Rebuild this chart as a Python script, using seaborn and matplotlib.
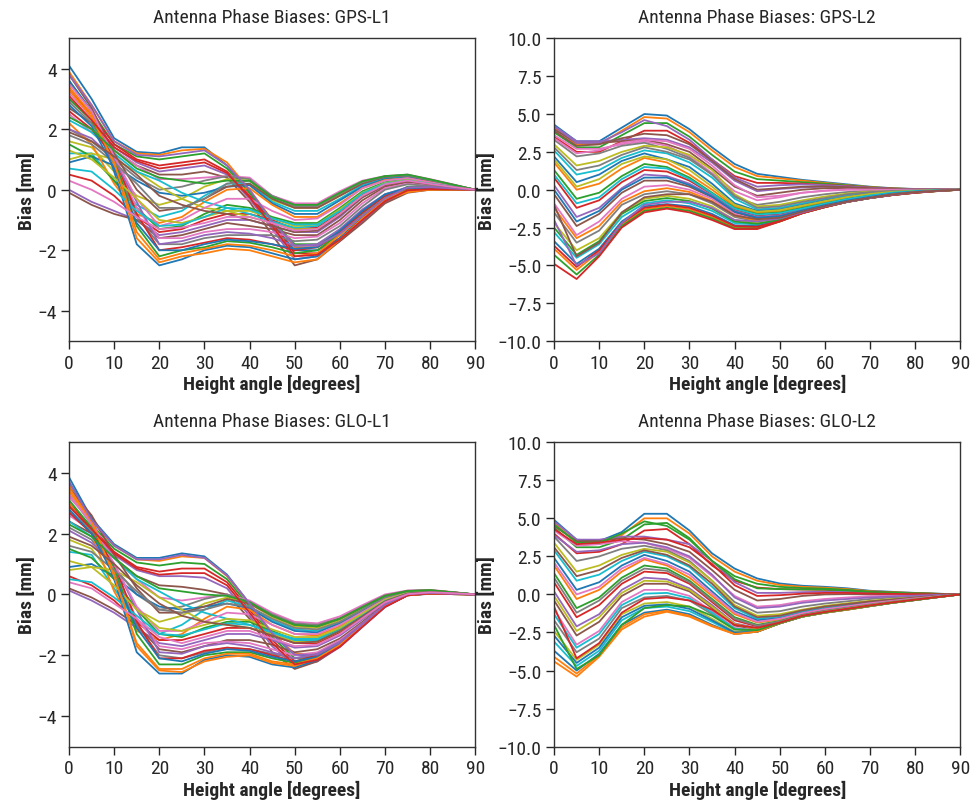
import numpy as np
import pandas as pd
import seaborn as sns
import matplotlib.pyplot as plt
from matplotlib import font_manager

# height angles (degrees)
angles = list(range(0, 95, 5))

# GPS-L1 curves [mm]
gps_l1 = [
    [4.1, 3.0, 1.7, 1.25, 1.2, 1.4, 1.4, 0.8, -0.1, -1.1, -2.0, -2.0, -1.6, -1.0, -0.4, 0.0, 0.05, 0.02, 0],
    [3.9, 2.8, 1.6, 1.2, 1.15, 1.3, 1.35, 0.9, 0.0, -1.0, -1.9, -1.9, -1.5, -0.9, -0.3, 0.05, 0.08, 0.03, 0],
    [3.6, 2.6, 1.5, 1.1, 1.0, 1.1, 1.2, 0.7, -0.1, -1.0, -1.8, -1.8, -1.4, -0.8, -0.25, 0.1, 0.1, 0.05, 0],
    [3.3, 2.5, 1.5, 1.0, 0.8, 0.9, 1.0, 0.6, -0.2, -1.1, -2.1, -2.1, -1.6, -1.0, -0.35, 0.0, 0.05, 0.02, 0],
    [3.0, 2.3, 1.4, 0.9, 0.6, 0.7, 0.8, 0.5, -0.3, -1.3, -2.3, -2.2, -1.7, -1.05, -0.4, -0.05, 0.0, 0.0, 0],
    [2.7, 2.2, 1.3, 0.8, 0.5, 0.5, 0.6, 0.4, -0.4, -1.5, -2.5, -2.3, -1.7, -1.1, -0.45, -0.1, 0.0, 0.0, 0],
    [2.5, 1.9, 1.3, 0.8, 0.35, 0.35, 0.4, 0.45, 0.4, -0.2, -0.45, -0.45, -0.05, 0.3, 0.45, 0.5, 0.35, 0.18, 0],
    [2.0, 1.6, 1.0, 0.4, 0.0, 0.1, 0.3, 0.45, 0.35, -0.3, -0.55, -0.55, -0.15, 0.22, 0.42, 0.48, 0.33, 0.16, 0],
    [1.6, 1.4, 0.6, -0.2, -0.5, -0.3, 0.1, 0.35, 0.3, -0.35, -0.6, -0.6, -0.2, 0.2, 0.4, 0.45, 0.3, 0.15, 0],
    [1.2, 1.2, 0.3, -0.5, -0.9, -0.7, -0.2, 0.2, 0.2, -0.4, -0.7, -0.7, -0.3, 0.15, 0.38, 0.43, 0.28, 0.14, 0],
    [0.9, 1.1, 0.8, 0.3, -0.1, -0.2, -0.1, 0.1, 0.15, -0.45, -0.8, -0.8, -0.35, 0.1, 0.35, 0.4, 0.27, 0.13, 0],
    [2.2, 1.5, 0.2, -0.8, -1.1, -0.9, -0.4, 0.0, 0.05, -0.5, -0.9, -0.9, -0.45, 0.05, 0.32, 0.38, 0.25, 0.12, 0],
    [1.5, 1.1, 0.3, -0.6, -1.3, -1.2, -0.8, -0.5, -0.6, -0.9, -1.1, -1.1, -0.6, -0.05, 0.25, 0.35, 0.22, 0.1, 0],
    [0.5, 0.3, -0.2, -0.9, -1.4, -1.3, -1.0, -0.8, -0.8, -1.0, -1.3, -1.25, -0.75, -0.15, 0.2, 0.3, 0.2, 0.1, 0],
    [0.0, -0.4, -0.7, -1.0, -1.5, -1.4, -1.2, -1.0, -1.0, -1.2, -1.4, -1.4, -0.9, -0.25, 0.15, 0.28, 0.18, 0.09, 0],
    [-0.1, -0.5, -0.8, -1.0, -1.6, -1.5, -1.3, -1.1, -1.2, -1.3, -1.5, -1.5, -1.0, -0.35, 0.1, 0.25, 0.16, 0.08, 0],
    [3.2, 2.4, 1.0, -0.6, -1.6, -1.6, -1.4, -1.3, -1.3, -1.4, -1.6, -1.55, -1.1, -0.45, 0.05, 0.2, 0.14, 0.07, 0],
    [2.9, 2.2, 0.9, -0.9, -1.8, -1.8, -1.6, -1.5, -1.5, -1.5, -1.7, -1.65, -1.2, -0.55, 0.0, 0.18, 0.12, 0.06, 0],
    [1.0, 1.2, 1.0, 0.6, 0.1, -0.3, -0.6, -0.7, -0.9, -1.1, -1.3, -1.3, -0.8, -0.2, 0.2, 0.32, 0.2, 0.1, 0],
    [2.3, 1.9, 1.2, 0.6, 0.3, -0.1, -0.4, -0.6, -0.8, -1.05, -1.25, -1.2, -0.7, -0.1, 0.22, 0.33, 0.21, 0.1, 0],
    [3.6, 2.6, 0.6, -1.8, -2.5, -2.3, -2.0, -1.85, -1.9, -2.1, -2.3, -2.2, -1.6, -0.9, -0.3, -0.05, 0.0, 0.0, 0],
    [3.4, 2.5, 0.8, -1.6, -2.4, -2.2, -2.1, -1.95, -2.0, -2.2, -2.4, -2.3, -1.65, -0.95, -0.35, -0.08, 0.0, 0.0, 0],
    [3.0, 2.3, 1.0, -1.2, -2.2, -2.0, -1.9, -1.7, -1.75, -1.9, -2.1, -2.0, -1.45, -0.8, -0.25, 0.0, 0.02, 0.01, 0],
    [2.6, 2.0, 1.1, -0.8, -2.0, -1.9, -1.75, -1.6, -1.65, -1.8, -2.0, -1.9, -1.4, -0.75, -0.2, 0.05, 0.04, 0.02, 0],
    [2.0, 1.7, 1.0, -0.4, -1.8, -1.7, -1.5, -1.4, -1.45, -1.6, -1.85, -1.8, -1.3, -0.65, -0.15, 0.08, 0.06, 0.03, 0],
    [3.8, 2.7, 1.2, 0.0, -0.7, -0.6, -0.3, 0.1, 0.2, -0.3, -0.6, -0.6, -0.2, 0.2, 0.42, 0.47, 0.32, 0.16, 0],
    [3.5, 2.6, 1.1, -0.3, -1.2, -1.0, -0.6, -0.3, -0.3, -0.7, -1.0, -0.95, -0.5, 0.05, 0.3, 0.38, 0.24, 0.12, 0],
    [1.8, 1.5, 0.9, 0.2, -0.6, -0.6, -0.3, 0.2, 0.3, -0.2, -0.5, -0.5, -0.1, 0.25, 0.44, 0.48, 0.32, 0.16, 0],
    [1.3, 1.0, 0.4, -0.3, -1.0, -1.1, -0.9, -0.7, -0.7, -0.95, -1.2, -1.15, -0.65, -0.1, 0.22, 0.32, 0.2, 0.1, 0],
    [0.7, 0.6, 0.0, -0.7, -1.2, -1.15, -0.9, -0.6, -0.65, -0.95, -1.15, -1.15, -0.7, -0.12, 0.2, 0.3, 0.2, 0.1, 0],
    [2.8, 2.1, 0.7, -1.1, -2.0, -2.0, -1.8, -1.65, -1.7, -1.8, -1.95, -1.9, -1.35, -0.7, -0.15, 0.06, 0.05, 0.02, 0],
    [3.3, 2.4, 0.9, -1.4, -2.3, -2.1, -1.95, -1.8, -1.85, -2.0, -2.2, -2.1, -1.5, -0.85, -0.28, -0.03, 0.0, 0.0, 0],
    [2.4, 2.0, 1.3, 0.7, 0.4, 0.3, 0.2, 0.3, 0.3, -0.25, -0.5, -0.5, -0.1, 0.28, 0.45, 0.5, 0.34, 0.17, 0],
    [3.1, 2.3, 1.4, 0.95, 0.7, 0.8, 0.9, 0.55, -0.25, -1.2, -2.2, -2.15, -1.65, -1.0, -0.38, -0.02, 0.02, 0.01, 0],
    [3.8, 2.8, 1.6, 1.15, 1.1, 1.2, 1.3, 0.8, 0.0, -1.05, -1.85, -1.85, -1.45, -0.85, -0.28, 0.07, 0.09, 0.04, 0],
    [1.9, 1.6, 1.1, 0.5, -0.2, -0.5, -0.7, -0.8, -1.0, -1.2, -1.4, -1.35, -0.85, -0.25, 0.15, 0.28, 0.18, 0.09, 0],
    [0.3, 0.0, -0.4, -0.9, -1.3, -1.25, -1.1, -0.9, -0.9, -1.1, -1.35, -1.3, -0.8, -0.2, 0.18, 0.3, 0.19, 0.09, 0],
]

# GPS-L2 curves [mm]
gps_l2 = [
    [4.3, 3.2, 3.2, 4.1, 5.0, 4.9, 4.0, 2.8, 1.7, 1.05, 0.85, 0.65, 0.5, 0.35, 0.2, 0.1, 0.05, 0.02, 0],
    [4.1, 3.0, 3.0, 3.9, 4.8, 4.7, 3.8, 2.6, 1.5, 0.9, 0.75, 0.6, 0.45, 0.3, 0.18, 0.09, 0.04, 0.02, 0],
    [3.8, 2.8, 2.8, 3.6, 4.4, 4.4, 3.5, 2.3, 1.2, 0.7, 0.6, 0.5, 0.4, 0.28, 0.16, 0.08, 0.04, 0.02, 0],
    [3.5, 2.5, 2.5, 3.2, 3.9, 3.9, 3.1, 2.0, 0.9, 0.45, 0.45, 0.4, 0.32, 0.24, 0.14, 0.07, 0.03, 0.01, 0],
    [4.2, 3.2, 3.2, 3.3, 3.4, 3.3, 2.8, 1.8, 0.6, -0.1, 0.05, 0.15, 0.2, 0.15, 0.1, 0.05, 0.02, 0.01, 0],
    [4.0, 3.1, 3.1, 3.2, 3.3, 3.0, 2.5, 1.4, 0.2, -0.4, -0.2, 0.0, 0.1, 0.1, 0.06, 0.03, 0.01, 0.0, 0],
    [3.6, 2.7, 2.7, 3.0, 3.2, 2.9, 2.2, 1.1, -0.1, -0.7, -0.5, -0.2, -0.05, 0.02, 0.02, 0.01, 0.0, 0.0, 0],
    [3.3, 2.2, 2.4, 2.9, 3.1, 2.7, 2.1, 1.0, -0.5, -1.0, -0.8, -0.5, -0.3, -0.15, -0.08, -0.04, -0.02, 0.0, 0],
    [3.0, 1.6, 1.9, 2.5, 2.9, 2.8, 2.3, 1.3, -0.3, -1.1, -1.0, -0.7, -0.45, -0.25, -0.12, -0.06, -0.03, -0.01, 0],
    [2.6, 1.0, 1.3, 2.1, 2.6, 2.4, 1.8, 0.8, -0.6, -1.3, -1.2, -0.9, -0.6, -0.35, -0.2, -0.1, -0.05, -0.02, 0],
    [2.2, 0.5, 1.0, 1.9, 2.4, 2.0, 1.5, 0.4, -0.9, -1.4, -1.3, -1.0, -0.7, -0.45, -0.25, -0.12, -0.06, -0.02, 0],
    [1.8, 0.0, 0.4, 1.4, 2.1, 1.8, 1.0, 0.0, -1.1, -1.5, -1.4, -1.1, -0.8, -0.5, -0.3, -0.15, -0.07, -0.03, 0],
    [1.3, -0.6, -0.2, 0.9, 1.7, 1.5, 0.8, -0.2, -1.2, -1.6, -1.5, -1.2, -0.9, -0.6, -0.35, -0.18, -0.08, -0.03, 0],
    [0.8, -1.2, -0.7, 0.5, 1.3, 1.2, 0.6, -0.3, -1.3, -1.7, -1.6, -1.3, -0.95, -0.65, -0.4, -0.2, -0.1, -0.04, 0],
    [0.3, -1.8, -1.2, 0.1, 1.0, 0.9, 0.4, -0.4, -1.4, -1.8, -1.7, -1.35, -1.0, -0.7, -0.45, -0.25, -0.12, -0.05, 0],
    [-0.3, -2.4, -1.6, -0.2, 0.6, 0.6, 0.2, -0.5, -1.5, -1.9, -1.8, -1.4, -1.05, -0.75, -0.5, -0.28, -0.14, -0.06, 0],
    [-0.9, -3.0, -2.1, -0.6, 0.2, 0.3, 0.0, -0.6, -1.6, -2.0, -1.85, -1.45, -1.1, -0.8, -0.52, -0.3, -0.15, -0.06, 0],
    [-1.5, -3.5, -2.7, -1.0, -0.3, -0.1, -0.3, -0.9, -1.8, -2.1, -1.9, -1.5, -1.1, -0.8, -0.55, -0.32, -0.16, -0.07, 0],
    [-2.2, -4.0, -3.2, -1.5, -0.6, -0.4, -0.6, -1.1, -2.0, -2.2, -1.95, -1.5, -1.12, -0.8, -0.55, -0.33, -0.17, -0.07, 0],
    [-2.8, -4.5, -3.6, -1.8, -0.9, -0.7, -0.9, -1.4, -2.2, -2.3, -2.0, -1.52, -1.14, -0.8, -0.55, -0.34, -0.18, -0.08, 0],
    [-3.4, -4.9, -3.9, -2.1, -1.1, -0.95, -1.1, -1.6, -2.35, -2.4, -2.05, -1.55, -1.15, -0.8, -0.55, -0.35, -0.19, -0.08, 0],
    [-3.9, -5.3, -4.1, -2.3, -1.3, -1.1, -1.3, -1.8, -2.5, -2.5, -2.1, -1.55, -1.15, -0.8, -0.55, -0.35, -0.2, -0.08, 0],
    [-4.3, -5.6, -4.3, -2.4, -1.4, -1.2, -1.4, -1.9, -2.55, -2.55, -2.1, -1.55, -1.15, -0.8, -0.55, -0.35, -0.2, -0.09, 0],
    [-4.9, -5.9, -4.4, -2.5, -1.5, -1.25, -1.5, -2.0, -2.6, -2.6, -2.1, -1.55, -1.15, -0.8, -0.55, -0.35, -0.2, -0.09, 0],
    [4.2, 3.1, 3.1, 3.8, 4.6, 4.2, 3.3, 2.0, 0.8, 0.2, 0.3, 0.35, 0.3, 0.22, 0.13, 0.06, 0.03, 0.01, 0],
    [3.9, 2.9, 3.0, 3.4, 3.7, 3.6, 3.0, 1.9, 0.7, 0.0, 0.1, 0.2, 0.22, 0.17, 0.1, 0.05, 0.02, 0.01, 0],
    [3.4, 2.4, 2.6, 3.1, 3.3, 3.2, 2.7, 1.6, 0.3, -0.5, -0.4, -0.2, -0.08, 0.0, 0.01, 0.0, 0.0, 0.0, 0],
    [2.8, 1.3, 1.6, 2.3, 2.8, 2.5, 2.0, 1.0, -0.4, -1.2, -1.1, -0.8, -0.55, -0.3, -0.16, -0.08, -0.04, -0.01, 0],
    [2.0, 0.2, 0.7, 1.7, 2.2, 2.0, 1.3, 0.2, -1.0, -1.45, -1.35, -1.05, -0.75, -0.48, -0.28, -0.14, -0.07, -0.03, 0],
    [1.0, -0.9, -0.5, 0.7, 1.5, 1.4, 0.7, -0.25, -1.25, -1.65, -1.55, -1.25, -0.92, -0.62, -0.38, -0.19, -0.09, -0.04, 0],
    [0.0, -2.1, -1.4, 0.0, 0.8, 0.8, 0.3, -0.45, -1.45, -1.85, -1.75, -1.38, -1.02, -0.72, -0.48, -0.26, -0.13, -0.05, 0],
    [-1.2, -3.2, -2.4, -0.8, -0.1, 0.1, -0.15, -0.75, -1.7, -2.05, -1.88, -1.48, -1.1, -0.8, -0.54, -0.31, -0.16, -0.07, 0],
    [-2.5, -4.3, -3.4, -1.6, -0.75, -0.55, -0.75, -1.25, -2.1, -2.25, -1.98, -1.51, -1.13, -0.8, -0.55, -0.34, -0.18, -0.08, 0],
    [-3.7, -5.1, -4.0, -2.2, -1.2, -1.0, -1.2, -1.7, -2.4, -2.45, -2.08, -1.55, -1.15, -0.8, -0.55, -0.35, -0.2, -0.08, 0],
    [-2.0, -5.0, -4.2, -2.2, -1.0, -0.8, -0.8, -1.2, -2.0, -2.1, -1.9, -1.5, -1.1, -0.8, -0.55, -0.33, -0.17, -0.07, 0],
    [-1.0, -4.4, -3.5, -1.5, -0.5, -0.3, -0.3, -0.8, -1.7, -1.95, -1.85, -1.45, -1.08, -0.78, -0.53, -0.31, -0.16, -0.07, 0],
]

# GLO-L1 curves [mm]
glo_l1 = [
    [3.85, 2.5, 1.65, 1.2, 1.2, 1.35, 1.25, 0.65, -0.3, -1.3, -2.0, -2.0, -1.6, -1.0, -0.35, 0.0, 0.05, 0.02, 0],
    [3.6, 2.4, 1.6, 1.15, 1.1, 1.25, 1.2, 0.6, -0.3, -1.25, -1.95, -1.95, -1.55, -0.95, -0.3, 0.02, 0.06, 0.03, 0],
    [3.3, 2.3, 1.5, 1.05, 0.95, 1.05, 1.0, 0.5, -0.4, -1.4, -2.1, -2.05, -1.65, -1.0, -0.35, 0.0, 0.05, 0.02, 0],
    [3.0, 2.2, 1.4, 0.9, 0.75, 0.85, 0.85, 0.4, -0.5, -1.5, -2.2, -2.1, -1.7, -1.05, -0.4, -0.02, 0.04, 0.02, 0],
    [2.7, 2.1, 1.3, 0.8, 0.6, 0.6, 0.55, 0.2, -0.7, -1.7, -2.35, -2.2, -1.73, -1.07, -0.42, -0.03, 0.03, 0.01, 0],
    [2.4, 2.0, 1.2, 0.6, 0.3, 0.25, 0.15, 0.0, -0.8, -1.9, -2.45, -2.2, -1.7, -1.05, -0.4, -0.02, 0.03, 0.01, 0],
    [2.6, 2.1, 1.2, 0.5, -0.1, -0.2, -0.1, 0.0, -0.2, -0.6, -0.9, -0.95, -0.72, -0.35, 0.0, 0.13, 0.15, 0.08, 0],
    [2.2, 1.8, 0.9, 0.0, -0.5, -0.4, -0.15, 0.0, -0.25, -0.65, -0.95, -1.0, -0.78, -0.4, -0.03, 0.12, 0.14, 0.07, 0],
    [1.8, 1.5, 0.5, -0.5, -0.9, -0.7, -0.3, -0.1, -0.3, -0.75, -1.05, -1.1, -0.85, -0.45, -0.06, 0.1, 0.13, 0.07, 0],
    [1.4, 1.3, 0.2, -0.9, -1.3, -1.0, -0.5, -0.2, -0.4, -0.85, -1.15, -1.2, -0.92, -0.5, -0.1, 0.09, 0.12, 0.06, 0],
    [0.9, 1.0, 0.6, 0.0, -0.4, -0.5, -0.4, -0.3, -0.45, -0.9, -1.2, -1.25, -0.95, -0.55, -0.12, 0.08, 0.11, 0.06, 0],
    [3.0, 2.0, 0.1, -1.2, -1.5, -1.3, -0.8, -0.4, -0.5, -1.0, -1.3, -1.35, -1.05, -0.6, -0.15, 0.06, 0.1, 0.05, 0],
    [1.5, 1.2, 0.5, -0.5, -1.3, -1.4, -1.1, -0.9, -0.9, -1.2, -1.5, -1.5, -1.15, -0.68, -0.2, 0.04, 0.09, 0.05, 0],
    [0.6, 0.3, -0.2, -0.9, -1.5, -1.5, -1.3, -1.1, -1.1, -1.35, -1.6, -1.6, -1.25, -0.75, -0.25, 0.02, 0.08, 0.04, 0],
    [0.13, -0.2, -0.6, -1.1, -1.6, -1.7, -1.5, -1.3, -1.3, -1.5, -1.75, -1.7, -1.35, -0.82, -0.28, 0.0, 0.07, 0.04, 0],
    [0.2, -0.1, -0.5, -1.0, -1.8, -1.9, -1.7, -1.5, -1.5, -1.65, -1.9, -1.8, -1.45, -0.9, -0.32, -0.01, 0.06, 0.03, 0],
    [3.3, 2.3, 0.8, -0.8, -1.7, -1.8, -1.6, -1.55, -1.6, -1.8, -2.0, -1.9, -1.5, -0.95, -0.35, -0.02, 0.05, 0.03, 0],
    [2.9, 2.1, 0.7, -1.0, -2.0, -2.1, -1.9, -1.75, -1.8, -1.95, -2.1, -2.0, -1.6, -1.0, -0.38, -0.03, 0.04, 0.02, 0],
    [0.8, 0.9, 0.8, 0.4, -0.1, -0.5, -0.9, -1.0, -1.1, -1.3, -1.55, -1.55, -1.2, -0.7, -0.22, 0.03, 0.08, 0.04, 0],
    [2.4, 1.9, 1.2, 0.5, 0.1, -0.3, -0.6, -0.8, -1.0, -1.25, -1.45, -1.45, -1.1, -0.65, -0.18, 0.05, 0.1, 0.05, 0],
    [3.7, 2.5, 0.5, -1.9, -2.6, -2.6, -2.15, -2.0, -2.05, -2.3, -2.4, -2.15, -1.7, -1.05, -0.4, -0.03, 0.02, 0.01, 0],
    [3.4, 2.4, 0.7, -1.7, -2.5, -2.55, -2.2, -2.05, -2.0, -2.25, -2.35, -2.1, -1.65, -1.02, -0.38, -0.02, 0.03, 0.01, 0],
    [3.1, 2.2, 0.9, -1.3, -2.3, -2.3, -2.0, -1.9, -1.9, -2.1, -2.25, -2.05, -1.6, -1.0, -0.37, -0.02, 0.03, 0.01, 0],
    [2.7, 2.0, 1.0, -0.9, -2.1, -2.1, -1.85, -1.75, -1.8, -2.0, -2.2, -2.0, -1.58, -0.98, -0.36, -0.01, 0.03, 0.02, 0],
    [2.1, 1.7, 1.0, -0.5, -1.9, -1.95, -1.7, -1.6, -1.7, -1.9, -2.1, -1.95, -1.55, -0.96, -0.35, -0.01, 0.04, 0.02, 0],
    [3.5, 2.6, 1.3, 0.2, -0.6, -0.6, -0.4, -0.15, -0.3, -0.7, -1.0, -1.05, -0.8, -0.42, -0.05, 0.11, 0.13, 0.07, 0],
    [3.2, 2.4, 1.0, -0.4, -1.2, -1.2, -0.9, -0.6, -0.65, -1.0, -1.3, -1.3, -1.0, -0.58, -0.15, 0.07, 0.1, 0.05, 0],
    [1.6, 1.4, 0.8, 0.1, -0.5, -0.6, -0.5, -0.3, -0.4, -0.8, -1.1, -1.15, -0.9, -0.5, -0.1, 0.09, 0.12, 0.06, 0],
    [1.1, 0.9, 0.3, -0.5, -1.1, -1.2, -1.0, -0.8, -0.85, -1.15, -1.4, -1.4, -1.1, -0.63, -0.18, 0.05, 0.09, 0.05, 0],
    [0.5, 0.4, -0.1, -0.7, -1.3, -1.35, -1.15, -0.95, -1.0, -1.25, -1.5, -1.5, -1.18, -0.7, -0.22, 0.03, 0.08, 0.04, 0],
    [2.8, 2.0, 0.6, -1.1, -2.1, -2.2, -1.95, -1.8, -1.85, -2.05, -2.2, -2.05, -1.62, -1.0, -0.37, -0.02, 0.04, 0.02, 0],
    [3.5, 2.4, 0.6, -1.6, -2.45, -2.45, -2.1, -1.95, -1.95, -2.2, -2.3, -2.1, -1.66, -1.03, -0.39, -0.03, 0.03, 0.01, 0],
    [2.3, 1.9, 1.2, 0.6, 0.2, 0.1, 0.0, -0.05, -0.25, -0.7, -1.0, -1.05, -0.8, -0.42, -0.05, 0.11, 0.14, 0.07, 0],
    [2.9, 2.15, 1.35, 0.85, 0.65, 0.7, 0.7, 0.3, -0.6, -1.6, -2.3, -2.15, -1.72, -1.06, -0.41, -0.03, 0.03, 0.01, 0],
    [3.7, 2.45, 1.6, 1.15, 1.15, 1.3, 1.2, 0.62, -0.3, -1.28, -1.98, -1.98, -1.58, -0.98, -0.33, 0.01, 0.05, 0.02, 0],
    [1.9, 1.6, 1.0, 0.3, -0.3, -0.7, -0.9, -1.0, -1.1, -1.35, -1.6, -1.55, -1.2, -0.72, -0.23, 0.03, 0.08, 0.04, 0],
    [0.4, 0.2, -0.3, -0.8, -1.4, -1.6, -1.4, -1.2, -1.2, -1.45, -1.7, -1.65, -1.3, -0.78, -0.26, 0.01, 0.07, 0.04, 0],
]

# GLO-L2 curves [mm]
glo_l2 = [
    [4.9, 3.6, 3.5, 4.1, 5.3, 5.3, 4.2, 2.7, 1.7, 1.05, 0.72, 0.57, 0.5, 0.4, 0.24, 0.17, 0.1, 0.05, 0],
    [4.7, 3.4, 3.4, 3.9, 5.0, 5.0, 4.0, 2.5, 1.5, 0.9, 0.62, 0.5, 0.44, 0.35, 0.21, 0.15, 0.09, 0.04, 0],
    [4.4, 3.1, 3.1, 3.6, 4.6, 4.7, 3.7, 2.2, 1.2, 0.7, 0.5, 0.42, 0.38, 0.3, 0.18, 0.13, 0.08, 0.04, 0],
    [4.0, 2.7, 2.8, 3.3, 4.2, 4.3, 3.3, 1.9, 0.9, 0.45, 0.35, 0.32, 0.3, 0.24, 0.15, 0.11, 0.07, 0.03, 0],
    [4.8, 3.6, 3.6, 3.8, 3.8, 3.6, 3.3, 2.2, 0.8, 0.1, 0.1, 0.15, 0.18, 0.16, 0.1, 0.07, 0.04, 0.02, 0],
    [4.5, 3.5, 3.5, 3.7, 3.6, 3.3, 2.8, 1.6, 0.3, -0.4, -0.3, -0.1, 0.0, 0.02, 0.0, 0.0, 0.0, 0.0, 0],
    [4.2, 3.2, 3.3, 3.5, 3.4, 3.0, 2.4, 1.2, -0.1, -0.8, -0.7, -0.45, -0.3, -0.2, -0.12, -0.07, -0.04, -0.02, 0],
    [3.8, 2.2, 2.5, 3.0, 3.2, 2.9, 2.2, 0.9, -0.5, -1.2, -1.1, -0.8, -0.6, -0.45, -0.3, -0.2, -0.12, -0.05, 0],
    [3.4, 1.5, 1.9, 2.6, 3.0, 2.8, 2.1, 0.9, -0.7, -1.4, -1.3, -1.0, -0.75, -0.58, -0.42, -0.3, -0.18, -0.08, 0],
    [2.9, 0.9, 1.3, 2.2, 2.8, 2.5, 1.8, 0.5, -0.9, -1.6, -1.45, -1.1, -0.85, -0.68, -0.5, -0.36, -0.22, -0.1, 0],
    [2.4, 0.3, 0.8, 1.9, 2.6, 2.2, 1.5, 0.2, -1.1, -1.7, -1.55, -1.2, -0.95, -0.75, -0.56, -0.4, -0.25, -0.12, 0],
    [1.9, -0.3, 0.3, 1.5, 2.3, 1.9, 1.1, -0.1, -1.3, -1.85, -1.65, -1.27, -1.0, -0.8, -0.6, -0.43, -0.27, -0.13, 0],
    [1.4, -0.9, -0.2, 1.1, 1.9, 1.7, 0.9, -0.3, -1.5, -2.0, -1.75, -1.33, -1.05, -0.85, -0.64, -0.46, -0.29, -0.14, 0],
    [0.8, -1.5, -0.7, 0.7, 1.5, 1.4, 0.7, -0.5, -1.7, -2.1, -1.8, -1.37, -1.1, -0.89, -0.67, -0.48, -0.31, -0.15, 0],
    [0.2, -2.1, -1.3, 0.3, 1.1, 1.0, 0.4, -0.7, -1.9, -2.2, -1.85, -1.4, -1.13, -0.92, -0.7, -0.5, -0.33, -0.16, 0],
    [-0.4, -2.7, -1.8, -0.1, 0.7, 0.7, 0.2, -0.9, -2.05, -2.3, -1.88, -1.42, -1.15, -0.94, -0.72, -0.52, -0.34, -0.17, 0],
    [-1.0, -3.3, -2.4, -0.5, 0.3, 0.3, -0.1, -1.1, -2.2, -2.35, -1.9, -1.44, -1.17, -0.96, -0.74, -0.53, -0.35, -0.17, 0],
    [-1.7, -3.8, -2.9, -0.9, -0.2, -0.1, -0.4, -1.3, -2.3, -2.4, -1.9, -1.45, -1.18, -0.97, -0.75, -0.54, -0.36, -0.18, 0],
    [-2.4, -4.3, -3.3, -1.3, -0.6, -0.5, -0.8, -1.6, -2.45, -2.45, -1.9, -1.46, -1.19, -0.98, -0.76, -0.55, -0.36, -0.18, 0],
    [-3.1, -4.7, -3.7, -1.7, -0.9, -0.8, -1.1, -1.8, -2.55, -2.45, -1.9, -1.46, -1.2, -0.99, -0.77, -0.55, -0.37, -0.18, 0],
    [-3.7, -5.0, -3.9, -2.0, -1.2, -1.0, -1.3, -2.0, -2.6, -2.45, -1.9, -1.46, -1.2, -1.0, -0.77, -0.55, -0.37, -0.18, 0],
    [-4.4, -5.4, -4.1, -2.3, -1.46, -1.14, -1.46, -2.1, -2.6, -2.45, -1.9, -1.46, -1.2, -1.0, -0.77, -0.55, -0.37, -0.18, 0],
    [4.6, 3.4, 3.4, 4.0, 4.8, 4.5, 3.6, 2.2, 1.0, 0.4, 0.35, 0.33, 0.32, 0.26, 0.16, 0.11, 0.07, 0.03, 0],
    [4.3, 3.3, 3.4, 3.6, 3.7, 3.6, 3.1, 2.0, 0.6, -0.1, -0.05, 0.05, 0.1, 0.1, 0.06, 0.04, 0.02, 0.01, 0],
    [3.9, 2.8, 2.9, 3.3, 3.4, 3.1, 2.5, 1.3, -0.2, -0.9, -0.8, -0.55, -0.4, -0.3, -0.2, -0.13, -0.08, -0.03, 0],
    [3.1, 1.2, 1.6, 2.4, 2.9, 2.6, 1.9, 0.7, -0.8, -1.5, -1.4, -1.05, -0.8, -0.63, -0.46, -0.33, -0.2, -0.09, 0],
    [2.1, 0.0, 0.5, 1.7, 2.4, 2.0, 1.3, 0.05, -1.2, -1.8, -1.6, -1.23, -0.97, -0.78, -0.58, -0.42, -0.26, -0.12, 0],
    [1.1, -1.2, -0.4, 0.9, 1.7, 1.55, 0.8, -0.4, -1.6, -2.05, -1.78, -1.35, -1.08, -0.87, -0.66, -0.47, -0.3, -0.15, 0],
    [-0.1, -2.4, -1.5, 0.1, 0.9, 0.85, 0.3, -0.8, -1.95, -2.25, -1.87, -1.41, -1.14, -0.93, -0.71, -0.51, -0.33, -0.16, 0],
    [-1.3, -3.5, -2.6, -0.7, 0.05, 0.1, -0.25, -1.2, -2.25, -2.38, -1.9, -1.45, -1.18, -0.97, -0.75, -0.54, -0.36, -0.17, 0],
    [-2.7, -4.5, -3.5, -1.5, -0.75, -0.65, -0.95, -1.7, -2.5, -2.45, -1.9, -1.46, -1.2, -0.99, -0.77, -0.55, -0.37, -0.18, 0],
    [-4.1, -5.2, -4.0, -2.15, -1.3, -1.07, -1.4, -2.05, -2.6, -2.45, -1.9, -1.46, -1.2, -1.0, -0.77, -0.55, -0.37, -0.18, 0],
    [-2.0, -4.9, -4.0, -2.0, -0.9, -0.7, -0.8, -1.4, -2.3, -2.35, -1.88, -1.44, -1.18, -0.97, -0.75, -0.54, -0.36, -0.17, 0],
    [-0.8, -4.2, -3.2, -1.2, -0.3, -0.2, -0.4, -1.0, -2.0, -2.2, -1.85, -1.4, -1.15, -0.94, -0.72, -0.52, -0.34, -0.17, 0],
]

l1_ticks = [-4, -2, 0, 2, 4]
l2_ticks = [-10, -7.5, -5, -2.5, 0, 2.5, 5, 7.5, 10]

panels = [
    ("Antenna Phase Biases: GPS-L1", gps_l1, (-5, 5), l1_ticks, "{:.0f}"),
    ("Antenna Phase Biases: GPS-L2", gps_l2, (-10, 10), l2_ticks, "{:.1f}"),
    ("Antenna Phase Biases: GLO-L1", glo_l1, (-5, 5), l1_ticks, "{:.0f}"),
    ("Antenna Phase Biases: GLO-L2", glo_l2, (-10, 10), l2_ticks, "{:.1f}"),
]

sns.set_style("ticks")
names = {f.name for f in font_manager.fontManager.ttflist}
fam = "Roboto"
for cand in ["Liberation Sans Narrow", "Roboto Condensed", "Open Sans Condensed", "Arial Narrow"]:
    if cand in names:
        fam = cand
        break
plt.rcParams["font.family"] = [fam, "DejaVu Sans"]

fig = plt.figure(figsize=(9.72, 8.03), dpi=100)
rects = [
    [0.071, 0.574, 0.418, 0.377],
    [0.570, 0.574, 0.418, 0.377],
    [0.071, 0.069, 0.418, 0.379],
    [0.570, 0.069, 0.418, 0.379],
]

for rect, (title, curves, ylim, yticks, fmt) in zip(rects, panels):
    ax = fig.add_axes(rect)
    rows = []
    for i, c in enumerate(curves):
        for a, v in zip(angles, c):
            rows.append({"angle": a, "bias": v, "line": i})
    df = pd.DataFrame(rows)
    sns.lineplot(
        data=df, x="angle", y="bias", hue="line",
        palette=sns.color_palette("tab10", len(curves)),
        legend=False, lw=1.3, ax=ax,
    )
    ax.set_xlim(0, 90)
    ax.set_ylim(*ylim)
    ax.set_xticks(range(0, 91, 10))
    ax.set_yticks(yticks)
    ax.set_yticklabels([fmt.format(t).replace("-", "\u2212") for t in yticks])
    ax.tick_params(labelsize=14, length=6, width=1, pad=3)
    ax.set_title(title, fontsize=14, pad=12)
    ax.set_xlabel("Height angle [degrees]", fontsize=14, fontweight="bold", labelpad=2)
    ax.set_ylabel("Bias [mm]", fontsize=14, fontweight="bold", labelpad=1)
    for s in ax.spines.values():
        s.set_linewidth(1.0)
        s.set_color("#333333")

fig.savefig("out.png", dpi=100)
